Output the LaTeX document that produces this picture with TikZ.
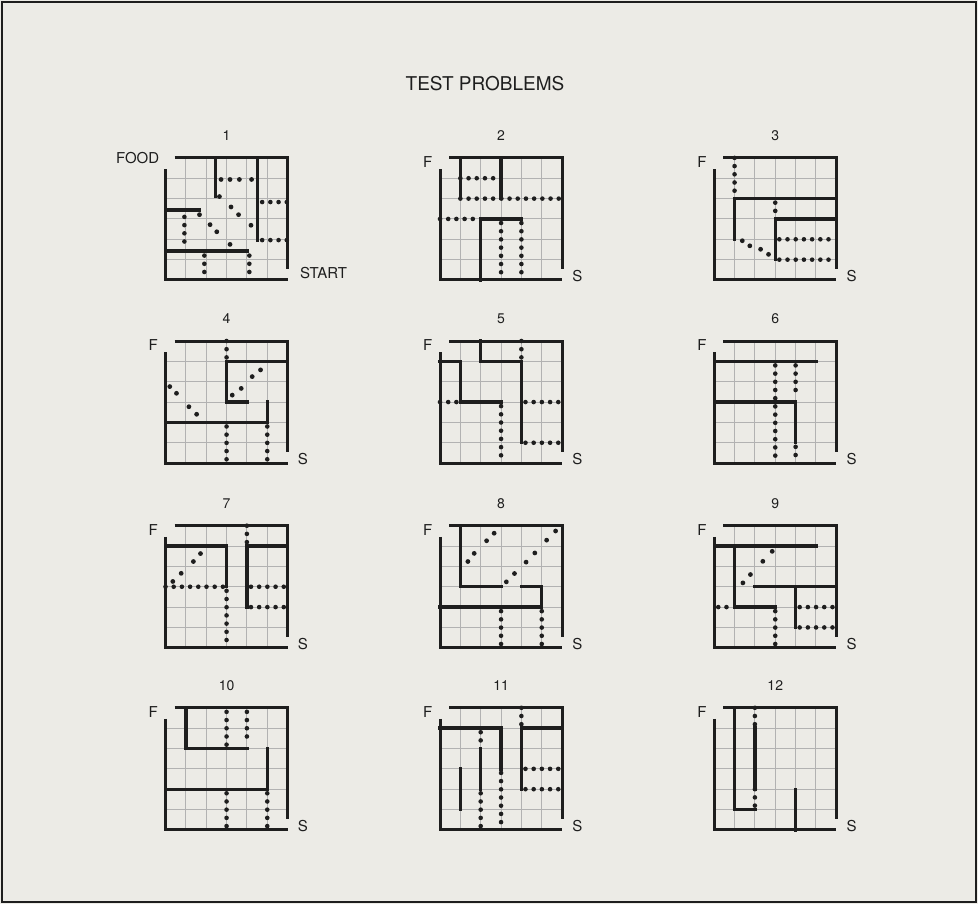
\documentclass[tikz,border=0pt]{standalone}
\usepackage{fontspec}
\setmainfont{TeX Gyre Heros}
\definecolor{paper}{RGB}{236,235,230}
\definecolor{ink}{RGB}{30,30,30}
\tikzset{
  wall/.style={line width=3.4pt, ink, line cap=rect, line join=miter},
  rim/.style={line width=3pt, ink, line join=miter},
  gridline/.style={line width=1pt, gray!60},
  errline/.style={line width=4.6pt, ink, line cap=round, dash pattern=on 0pt off 8.2pt},
  lbl/.style={font=\fontsize{15}{15}\selectfont, text=ink, inner sep=0pt},
  numlbl/.style={font=\fontsize{14}{14}\selectfont, text=ink, inner sep=0pt},
  titlelbl/.style={font=\fontsize{19}{19}\selectfont, text=ink, inner sep=0pt},
}
% grid, outer walls and number of one problem
\newcommand{\mazebase}[1]{%
  \foreach \k in {1,...,5} {
    \draw[gridline] (\k,0) -- (\k,6);
    \draw[gridline] (0,\k) -- (6,\k);
  }
  \draw[rim] (0.45,6) -- (6,6) -- (6,0.55);
  \draw[rim] (0,5.45) -- (0,0) -- (6,0);
  \node[numlbl] (num#1) at (3,7.08) {#1};
}
\newcommand{\mazeends}[1]{%
  \node[lbl] (food#1) at (-0.6,5.8) {F};
  \node[lbl] (start#1) at (6.75,0.2) {S};
}
\newcommand{\errdots}[1]{\foreach \p in {#1} \fill[ink] \p circle (2.4pt);}

\begin{document}
\begin{tikzpicture}[x=1pt,y=-1pt]
\fill[paper] (0,0) rectangle (978,904);
\useasboundingbox (0,0) rectangle (978,904);
\draw[line width=1.2pt, ink] (2,2) rectangle (976,902);
\node[titlelbl] (title) at (485,84) {TEST PROBLEMS};

% problem 1
\begin{scope}[shift={(165.5,280)}, x=20.35pt, y=20.35pt]
  \mazebase{1}
  \node[lbl, anchor=east] (food1) at (-0.3,6) {FOOD};
  \node[lbl, anchor=west] (start1) at (6.6,0.34) {START};
  \draw[wall] (2.45,6) -- (2.45,4.1);
  \draw[wall] (4.53,6) -- (4.53,1.96);
  \draw[wall] (0,3.43) -- (1.67,3.43);
  \draw[wall] (0,1.42) -- (4.04,1.42);
  \errdots{(2.73,4.94),(3.17,4.94),(3.63,4.94),(4.23,4.94),(2.65,4.1)}
  \draw[errline] (4.75,3.83) -- (6,3.83);
  \draw[errline] (4.75,1.96) -- (6,1.96);
  \errdots{(3.22,3.59),(3.59,3.21),(4.2,2.69)}
  \errdots{(1.67,3.21),(2.19,2.72),(2.52,2.37),(3.17,1.75)}
  \draw[errline] (0.93,3.1) -- (0.93,1.55);
  \draw[errline] (1.91,1.2) -- (1.91,0);
  \draw[errline] (4.12,1.2) -- (4.12,0);
\end{scope}

% problem 2
\begin{scope}[shift={(440,280)}, x=20.35pt, y=20.35pt]
  \mazebase{2}
  \mazeends{2}
  \draw[wall] (1,6) -- (1,4);
  \draw[wall] (3,6) -- (3,4);
  \draw[wall] (2,0) -- (2,3) -- (4,3);
  \draw[errline] (1,5) -- (3,5);
  \draw[errline] (1,4) -- (6,4);
  \draw[errline] (0,3) -- (2,3);
  \draw[errline] (3,2.8) -- (3,0);
  \draw[errline] (4,2.8) -- (4,0);
\end{scope}

% problem 3
\begin{scope}[shift={(714.2,280)}, x=20.35pt, y=20.35pt]
  \mazebase{3}
  \mazeends{3}
  \draw[wall] (1,2) -- (1,4) -- (6,4);
  \draw[wall] (6,3) -- (3,3) -- (3,1);
  \draw[errline] (1,6) -- (1,4);
  \draw[errline] (3,3.8) -- (3,3);
  \draw[errline] (3.2,2) -- (6,2);
  \draw[errline] (3.2,1) -- (6,1);
  \errdots{(1.38,1.93),(1.75,1.68),(2.28,1.51),(2.67,1.26)}
\end{scope}

% problem 4
\begin{scope}[shift={(165.5,463.1)}, x=20.35pt, y=20.35pt]
  \mazebase{4}
  \mazeends{4}
  \draw[wall] (6,5) -- (3,5) -- (3,3) -- (4,3);
  \draw[wall] (0,2) -- (5,2) -- (5,3);
  \draw[errline] (3,6) -- (3,5);
  \draw[errline] (3,1.8) -- (3,0);
  \draw[errline] (5,1.8) -- (5,0);
  \errdots{(3.28,3.34),(3.72,3.67),(4.26,4.25),(4.67,4.58)}
  \errdots{(0.21,3.76),(0.54,3.43),(1.15,2.77),(1.53,2.4)}
\end{scope}

% problem 5
\begin{scope}[shift={(440,463.1)}, x=20.35pt, y=20.35pt]
  \mazebase{5}
  \mazeends{5}
  \draw[wall] (2,6) -- (2,5) -- (4,5) -- (4,1);
  \draw[wall] (0,5) -- (1,5) -- (1,3) -- (3,3);
  \draw[errline] (4,6) -- (4,5);
  \draw[errline] (0,3) -- (1,3);
  \draw[errline] (3,2.8) -- (3,0);
  \draw[errline] (4.2,3) -- (6,3);
  \draw[errline] (4.2,1) -- (6,1);
\end{scope}

% problem 6
\begin{scope}[shift={(714.2,463.1)}, x=20.35pt, y=20.35pt]
  \mazebase{6}
  \mazeends{6}
  \draw[wall] (0,5) -- (5,5);
  \draw[wall] (0,3) -- (4,3) -- (4,1);
  \draw[errline] (3,4.8) -- (3,0);
  \draw[errline] (4,4.8) -- (4,3.2);
  \draw[errline] (4,0.8) -- (4,0);
\end{scope}

% problem 7
\begin{scope}[shift={(165.5,647.8)}, x=20.35pt, y=20.35pt]
  \mazebase{7}
  \mazeends{7}
  \draw[wall] (0,5) -- (3,5) -- (3,3);
  \draw[wall] (6,5) -- (4,5) -- (4,2);
  \draw[errline] (4,6) -- (4,5);
  \draw[errline] (0,3) -- (3,3);
  \draw[errline] (3,2.8) -- (3,0);
  \draw[errline] (4.2,3) -- (6,3);
  \draw[errline] (4.2,2) -- (6,2);
  \errdots{(0.36,3.26),(0.77,3.66),(1.37,4.24),(1.72,4.63)}
\end{scope}

% problem 8
\begin{scope}[shift={(440,647.8)}, x=20.35pt, y=20.35pt]
  \mazebase{8}
  \mazeends{8}
  \draw[wall] (1,6) -- (1,3) -- (3,3);
  \draw[wall] (4,3) -- (5,3) -- (5,2) -- (0,2);
  \draw[errline] (3,1.8) -- (3,0);
  \draw[errline] (5,1.8) -- (5,0);
  \errdots{(1.37,4.24),(1.68,4.64),(2.29,5.26),(2.66,5.63)}
  \errdots{(3.26,3.24),(3.66,3.65),(4.23,4.21),(4.66,4.66),(5.24,5.29),(5.68,5.74)}
\end{scope}

% problem 9
\begin{scope}[shift={(714.2,647.8)}, x=20.35pt, y=20.35pt]
  \mazebase{9}
  \mazeends{9}
  \draw[wall] (0,5) -- (5,5);
  \draw[wall] (1,5) -- (1,2) -- (3,2);
  \draw[wall] (2,3) -- (6,3);
  \draw[wall] (4,3) -- (4,1);
  \draw[errline] (0.2,2) -- (1,2);
  \draw[errline] (3,1.8) -- (3,0);
  \draw[errline] (4.2,2) -- (6,2);
  \draw[errline] (4.2,1) -- (6,1);
  \errdots{(1.41,3.19),(1.78,3.6),(2.39,4.25),(2.85,4.74)}
\end{scope}

% problem 10
\begin{scope}[shift={(165.5,829.9)}, x=20.35pt, y=20.35pt]
  \mazebase{10}
  \mazeends{10}
  \draw[wall] (1,6) -- (1,4) -- (4,4);
  \draw[wall] (0,2) -- (5,2) -- (5,4);
  \draw[errline] (3,5.8) -- (3,4);
  \draw[errline] (4,5.8) -- (4,4.2);
  \draw[errline] (3,1.8) -- (3,0);
  \draw[errline] (5,1.8) -- (5,0);
\end{scope}

% problem 11
\begin{scope}[shift={(440,829.9)}, x=20.35pt, y=20.35pt]
  \mazebase{11}
  \mazeends{11}
  \draw[wall] (0,5) -- (3,5) -- (3,3);
  \draw[wall] (6,5) -- (4,5) -- (4,2);
  \draw[wall] (2,4) -- (2,2);
  \draw[wall] (1,3) -- (1,1);
  \draw[errline] (4,6) -- (4,5);
  \draw[errline] (2,4.8) -- (2,4);
  \draw[errline] (2,1.8) -- (2,0);
  \draw[errline] (3,2.8) -- (3,0);
  \draw[errline] (4.2,3) -- (6,3);
  \draw[errline] (4.2,2) -- (6,2);
\end{scope}

% problem 12
\begin{scope}[shift={(714.2,829.9)}, x=20.35pt, y=20.35pt]
  \mazebase{12}
  \mazeends{12}
  \draw[wall] (1,6) -- (1,1) -- (2,1);
  \draw[wall] (2,5) -- (2,2);
  \draw[wall] (4,2) -- (4,0);
  \draw[errline] (2,6) -- (2,5);
  \draw[errline] (2,2) -- (2,1);
\end{scope}
\end{tikzpicture}
\end{document}
